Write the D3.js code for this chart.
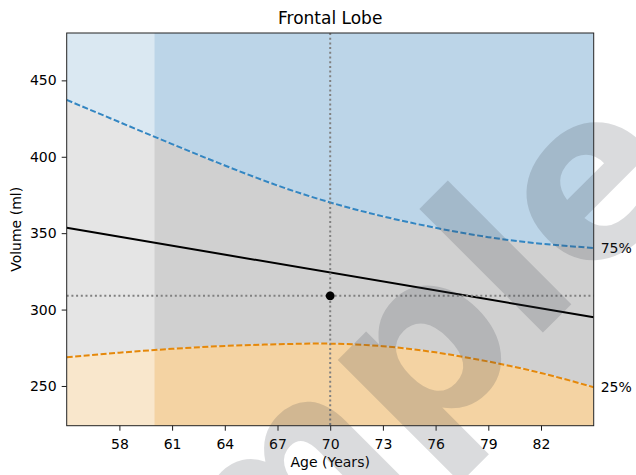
<!DOCTYPE html>
<html>
<head>
<meta charset="utf-8">
<script src="https://cdn.jsdelivr.net/npm/d3@7"></script>
<style>
  html, body { margin: 0; padding: 0; background: #fff; }
  svg { display: block; }
  text { font-family: "DejaVu Sans", sans-serif; }
</style>
</head>
<body>
<script>
// ---- data ----
const title = "Frontal Lobe";
const xLabel = "Age (Years)";
const yLabel = "Volume (ml)";
const ages = [55, 58, 61, 64, 67, 70, 73, 76, 79, 82, 85];
const p75 = [437.2, 422.7, 408.3, 394.3, 381.2, 370.1, 361.0, 353.5, 347.4, 343.1, 340.3];
const p25 = [268.8, 271.8, 274.3, 276.2, 277.3, 277.7, 276.0, 272.0, 266.0, 258.5, 249.2];
const medianAges = [55, 85];
const median = [353.5, 295.0];
const subjectAge = [70];
const subjectVolume = [309.0];
const lowConfidenceAgeRange = [55, 60];
const xDomain = [55, 85];
const yDomain = [224, 481];
const xTicks = [58, 61, 64, 67, 70, 73, 76, 79, 82];
const yTicks = [250, 300, 350, 400, 450];
const percentileLabels = ["75%", "25%"];
const watermark = "Sample";

// ---- layout ----
const W = 636, H = 475;
const L = 66.7, R = 593.7, T = 33, B = 425.7;

const svg = d3.select("body").append("svg").attr("width", W).attr("height", H);

const x = d3.scaleLinear().domain(xDomain).range([L, R]);
const y = d3.scaleLinear().domain(yDomain).range([B, T]);

svg.append("defs").append("clipPath").attr("id", "clip")
  .append("rect").attr("x", L).attr("y", T).attr("width", R - L).attr("height", B - T);

const g = svg.append("g").attr("clip-path", "url(#clip)");

const pts75 = ages.map((a, i) => [a, p75[i]]);
const pts25 = ages.map((a, i) => [a, p25[i]]);
const band = ages.map((a, i) => ({ a, lo: p25[i], hi: p75[i] }));
const curve = d3.curveNatural;

// blue region above 75%
g.append("path").datum(pts75)
  .attr("d", d3.area().curve(curve).x(d => x(d[0])).y0(y(yDomain[1]) - 2).y1(d => y(d[1])))
  .attr("fill", "#bcd5e8");
// gray band
g.append("path").datum(band)
  .attr("d", d3.area().curve(curve).x(d => x(d.a)).y0(d => y(d.lo)).y1(d => y(d.hi)))
  .attr("fill", "#d0d0d0");
// orange region below 25%
g.append("path").datum(pts25)
  .attr("d", d3.area().curve(curve).x(d => x(d[0])).y0(y(yDomain[0]) + 2).y1(d => y(d[1])))
  .attr("fill", "#f4d3a3");
// low-confidence overlay
g.append("rect")
  .attr("x", x(lowConfidenceAgeRange[0]) - 2).attr("y", T - 2)
  .attr("width", x(lowConfidenceAgeRange[1]) - x(lowConfidenceAgeRange[0]) + 2)
  .attr("height", B - T + 4)
  .attr("fill", "#ffffff").attr("fill-opacity", 0.45);

const line = d3.line().curve(curve).x(d => x(d[0])).y(d => y(d[1]));
g.append("path").datum(pts75).attr("d", line)
  .attr("fill", "none").attr("stroke", "#3386c2").attr("stroke-width", 2)
  .attr("stroke-dasharray", "6,2.5");
g.append("path").datum(pts25).attr("d", line)
  .attr("fill", "none").attr("stroke", "#e5880a").attr("stroke-width", 2)
  .attr("stroke-dasharray", "6,2.5");
g.append("path").datum(medianAges.map((a, i) => [a, median[i]]))
  .attr("d", d3.line().x(d => x(d[0])).y(d => y(d[1])))
  .attr("fill", "none").attr("stroke", "#000").attr("stroke-width", 2);

// subject crosshair
g.append("line")
  .attr("x1", x(subjectAge[0])).attr("x2", x(subjectAge[0]))
  .attr("y1", T).attr("y2", B)
  .attr("stroke", "#808080").attr("stroke-width", 2).attr("stroke-dasharray", "2,2.7");
g.append("line")
  .attr("x1", L).attr("x2", R)
  .attr("y1", y(subjectVolume[0])).attr("y2", y(subjectVolume[0]))
  .attr("stroke", "#808080").attr("stroke-width", 2).attr("stroke-dasharray", "2,2.7");
g.selectAll("circle.subject").data(subjectAge).join("circle")
  .attr("class", "subject")
  .attr("cx", d => x(d)).attr("cy", (d, i) => y(subjectVolume[i])).attr("r", 4.4)
  .attr("fill", "#000");

// axes
const xAxis = svg.append("g").attr("transform", `translate(0,${B})`)
  .call(d3.axisBottom(x).tickValues(xTicks).tickSize(5).tickPadding(5).tickFormat(d3.format("d")));
const yAxis = svg.append("g").attr("transform", `translate(${L},0)`)
  .call(d3.axisLeft(y).tickValues(yTicks).tickSize(5).tickPadding(5).tickFormat(d3.format("d")));
[xAxis, yAxis].forEach(ax => {
  ax.select(".domain").remove();
  ax.selectAll(".tick line").attr("stroke", "#000").attr("stroke-width", 0.9);
  ax.selectAll(".tick text").attr("font-size", 14).attr("fill", "#000")
    .attr("font-family", "DejaVu Sans");
});
xAxis.selectAll(".tick text").attr("dy", "0.95em");

// frame
svg.append("rect").attr("x", L).attr("y", T).attr("width", R - L).attr("height", B - T)
  .attr("fill", "none").attr("stroke", "#222").attr("stroke-width", 1);

// texts
svg.append("text").attr("x", (L + R) / 2).attr("y", 24).attr("text-anchor", "middle")
  .attr("font-size", 17).text(title);
svg.append("text").attr("x", (L + R) / 2).attr("y", 467).attr("text-anchor", "middle")
  .attr("font-size", 14).text(xLabel);
svg.append("text").attr("transform", `translate(21,${(T + B) / 2}) rotate(-90)`)
  .attr("text-anchor", "middle").attr("font-size", 14).text(yLabel);

svg.selectAll("text.pct").data(percentileLabels).join("text")
  .attr("class", "pct")
  .attr("x", R + 7)
  .attr("y", (d, i) => y(i === 0 ? p75[p75.length - 1] : p25[p25.length - 1]))
  .attr("dy", "0.36em").attr("font-size", 14).text(d => d);

// watermark
svg.append("text")
  .attr("transform", "translate(356,519.5) rotate(-45)")
  .attr("text-anchor", "middle")
  .attr("font-size", 230).attr("font-weight", "bold")
  .attr("fill", "rgb(58,64,74)").attr("fill-opacity", 0.19)
  .text(watermark);
</script>
</body>
</html>
